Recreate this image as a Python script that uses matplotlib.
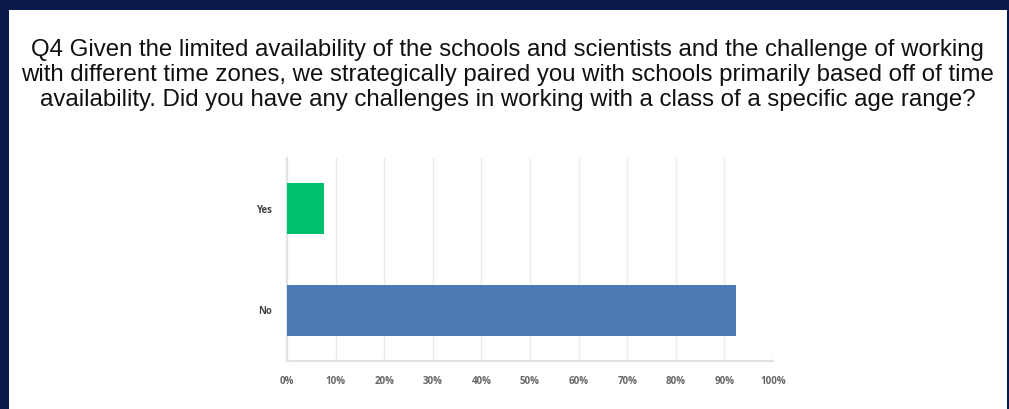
import matplotlib.pyplot as plt
from matplotlib.patches import Rectangle

NAVY, GREEN, BLUE, GRID, TXT = "#0b1a4d", "#00bf6f", "#4e7bb5", "#ececec", "#666666"

answers = ["No", "Yes"]
shares = [92.31, 7.69]           # percent of respondents
colors = [BLUE, GREEN]
xticks = [0, 10, 20, 30, 40, 50, 60, 70, 80, 90, 100]
title = ("Q4 Given the limited availability of the schools and scientists and the challenge of working\n"
         "with different time zones, we strategically paired you with schools primarily based off of time\n"
         "availability. Did you have any challenges in working with a class of a specific age range?")

W, H = 1009, 409
fig = plt.figure(figsize=(W/100, H/100), dpi=100, facecolor=NAVY)
fig.patches.append(Rectangle((9/W, 0), (W-11)/W, (H-10)/H, transform=fig.transFigure,
                             facecolor="white", edgecolor="none", zorder=-5))
fig.text(0.503, 1-75/H, title, ha="center", va="center", fontsize=17.3,
         family="Liberation Sans", color="#111111", linespacing=1.2)

ax = fig.add_axes([287/W, 1-361/H, (773-287)/W, (361-158)/H])
ax.barh(range(len(answers)), shares, height=0.5, color=colors, zorder=3)
ax.set_xlim(0, 100); ax.set_ylim(-0.5, 1.5)
ax.set_xticks(xticks)
ax.set_xticklabels([f"{t}%" for t in xticks], fontsize=7, fontweight="bold",
                   color=TXT, family="Open Sans")
ax.set_yticks(range(len(answers)))
ax.set_yticklabels(answers, fontsize=7, fontweight="bold", color="#444444", family="Open Sans")
ax.grid(axis="x", color=GRID, linewidth=1, zorder=0)
for s in ["top", "right"]:
    ax.spines[s].set_visible(False)
ax.spines["left"].set_color("#e2e2e2"); ax.spines["bottom"].set_color("#e2e2e2")
ax.spines["left"].set_linewidth(1.5); ax.spines["bottom"].set_linewidth(1.5)
ax.tick_params(axis="x", length=0, pad=11)
ax.tick_params(axis="y", length=0, pad=11)
ax.set_facecolor("white")

fig.savefig("out.png", dpi=100, facecolor=NAVY)
